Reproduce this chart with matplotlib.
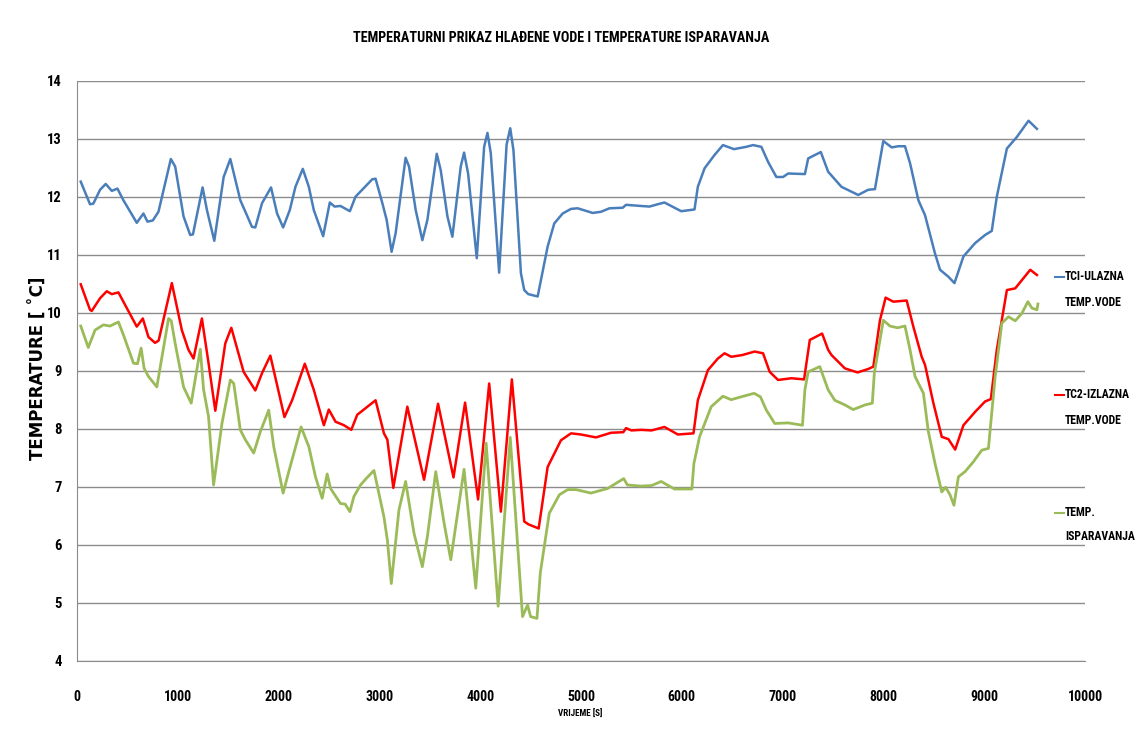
import matplotlib
matplotlib.use("Agg")
import matplotlib.pyplot as plt
from matplotlib import font_manager

names = {f.name for f in font_manager.fontManager.ttflist}
NARROW = None
for cand in ["Liberation Sans Narrow", "Roboto Condensed", "Open Sans Condensed", "DejaVu Sans Condensed"]:
    if cand in names:
        NARROW = cand
        break
if NARROW is None:
    NARROW = "DejaVu Sans"

# ---------------- data ----------------
tc1_x = [37, 129, 162, 229, 285, 345, 401, 460, 593, 659, 699, 752, 808, 931, 974, 1057, 1123, 1150,
         1246, 1289, 1362, 1455, 1521, 1620, 1736, 1769, 1836, 1925, 1985, 2045, 2111, 2167, 2240,
         2300, 2349, 2442, 2508, 2555, 2614, 2707, 2763, 2929, 2962, 3029, 3072, 3121, 3161, 3260,
         3294, 3360, 3426, 3476, 3569, 3608, 3675, 3724, 3807, 3840, 3880, 3966, 4039, 4072, 4105,
         4188, 4262, 4298, 4330, 4404, 4437, 4477, 4570, 4669, 4735, 4818, 4901, 4967, 5116, 5199,
         5282, 5414, 5447, 5596, 5679, 5762, 5828, 5994, 6126, 6159, 6226, 6325, 6408, 6517, 6640,
         6707, 6789, 6856, 6938, 7005, 7055, 7221, 7254, 7379, 7452, 7584, 7750, 7850, 7916, 7999,
         8082, 8148, 8214, 8264, 8347, 8413, 8512, 8562, 8645, 8705, 8794, 8910, 9009, 9075, 9125,
         9225, 9324, 9440, 9523]
tc1_y = [12.26, 11.87, 11.88, 12.12, 12.22, 12.10, 12.14, 11.94, 11.55, 11.71, 11.57, 11.59, 11.74,
         12.65, 12.52, 11.66, 11.34, 11.35, 12.16, 11.77, 11.24, 12.34, 12.65, 11.94, 11.48, 11.47,
         11.89, 12.16, 11.71, 11.47, 11.77, 12.17, 12.48, 12.17, 11.77, 11.32, 11.90, 11.83, 11.84,
         11.75, 12.00, 12.30, 12.31, 11.89, 11.60, 11.05, 11.37, 12.67, 12.52, 11.77, 11.25, 11.60,
         12.74, 12.46, 11.66, 11.31, 12.52, 12.76, 12.40, 10.94, 12.86, 13.10, 12.75, 10.69, 12.90,
         13.18, 12.80, 10.68, 10.39, 10.32, 10.28, 11.14, 11.54, 11.71, 11.79, 11.80, 11.72, 11.74,
         11.80, 11.81, 11.86, 11.84, 11.83, 11.87, 11.90, 11.75, 11.78, 12.17, 12.49, 12.72, 12.89,
         12.82, 12.86, 12.89, 12.86, 12.60, 12.34, 12.34, 12.40, 12.39, 12.66, 12.77, 12.43, 12.17,
         12.03, 12.12, 12.13, 12.96, 12.85, 12.87, 12.87, 12.58, 11.94, 11.68, 11.02, 10.74, 10.62,
         10.51, 10.97, 11.20, 11.34, 11.41, 12.00, 12.83, 13.03, 13.31, 13.17]

tc2_x = [37, 129, 146, 229, 295, 345, 411, 494, 593, 653, 709, 775, 810, 941, 1040, 1106, 1156, 1239,
         1305, 1372, 1471, 1531, 1653, 1769, 1836, 1918, 2058, 2134, 2260, 2349, 2449, 2498, 2565,
         2648, 2721, 2780, 2962, 3045, 3079, 3138, 3277, 3443, 3582, 3735, 3850, 3979, 4089, 4205,
         4314, 4437, 4480, 4580, 4669, 4801, 4901, 5000, 5149, 5298, 5420, 5447, 5500, 5596, 5700,
         5828, 5961, 6116, 6159, 6259, 6358, 6424, 6491, 6600, 6723, 6806, 6872, 6955, 7087, 7213,
         7270, 7392, 7452, 7485, 7618, 7744, 7850, 7900, 7966, 8022, 8098, 8231, 8297, 8380, 8413,
         8496, 8579, 8645, 8712, 8794, 8910, 9009, 9066, 9125, 9225, 9308, 9457, 9523]
tc2_y = [10.49, 10.05, 10.03, 10.25, 10.37, 10.32, 10.35, 10.08, 9.76, 9.90, 9.58, 9.48, 9.52, 10.51,
         9.70, 9.36, 9.21, 9.90, 9.13, 8.31, 9.47, 9.74, 8.98, 8.66, 8.96, 9.26, 8.20, 8.49, 9.12,
         8.67, 8.06, 8.33, 8.12, 8.06, 7.98, 8.24, 8.49, 7.92, 7.81, 6.98, 8.38, 7.12, 8.43, 7.16,
         8.45, 6.78, 8.78, 6.57, 8.85, 6.40, 6.35, 6.28, 7.34, 7.80, 7.92, 7.90, 7.85, 7.93, 7.94,
         8.01, 7.97, 7.98, 7.97, 8.03, 7.90, 7.92, 8.49, 9.01, 9.21, 9.30, 9.24, 9.27, 9.33, 9.30,
         8.98, 8.84, 8.87, 8.85, 9.53, 9.64, 9.36, 9.27, 9.04, 8.97, 9.03, 9.07, 9.87, 10.26, 10.19,
         10.21, 9.76, 9.24, 9.10, 8.44, 7.86, 7.82, 7.64, 8.06, 8.29, 8.47, 8.51, 9.36, 10.39, 10.42,
         10.74, 10.65]

isp_x = [37, 112, 179, 261, 328, 411, 460, 560, 600, 636, 666, 709, 792, 908, 935, 974, 1057, 1133,
         1223, 1256, 1305, 1355, 1438, 1521, 1555, 1620, 1670, 1753, 1819, 1902, 1952, 2045, 2101,
         2223, 2300, 2366, 2432, 2482, 2515, 2614, 2660, 2707, 2747, 2813, 2863, 2946, 3045, 3079,
         3118, 3194, 3260, 3343, 3426, 3476, 3559, 3642, 3708, 3840, 3956, 4059, 4178, 4298, 4420,
         4470, 4500, 4563, 4596, 4685, 4785, 4868, 4950, 5099, 5265, 5424, 5460, 5596, 5700, 5795,
         5928, 6100, 6120, 6176, 6292, 6408, 6490, 6590, 6717, 6780, 6839, 6922, 7055, 7197, 7221,
         7254, 7369, 7452, 7518, 7618, 7701, 7817, 7890, 7910, 7966, 7999, 8065, 8140, 8214, 8264,
         8314, 8397, 8446, 8512, 8579, 8618, 8661, 8700, 8744, 8810, 8893, 8976, 9042, 9059, 9109,
         9175, 9241, 9308, 9374, 9433, 9473, 9523, 9533]
isp_y = [9.77, 9.40, 9.70, 9.79, 9.77, 9.84, 9.62, 9.13, 9.12, 9.39, 9.04, 8.90, 8.72, 9.90, 9.86,
         9.47, 8.72, 8.44, 9.37, 8.67, 8.21, 7.03, 8.09, 8.84, 8.78, 7.98, 7.81, 7.58, 7.95, 8.32,
         7.69, 6.89, 7.26, 8.03, 7.69, 7.17, 6.80, 7.22, 6.97, 6.71, 6.70, 6.57, 6.83, 7.03, 7.13,
         7.28, 6.48, 6.08, 5.33, 6.60, 7.09, 6.20, 5.62, 6.14, 7.26, 6.37, 5.74, 7.30, 5.25, 7.75,
         4.94, 7.85, 4.76, 4.96, 4.76, 4.73, 5.51, 6.54, 6.86, 6.95, 6.95, 6.89, 6.97, 7.14, 7.03,
         7.01, 7.02, 7.09, 6.96, 6.96, 7.40, 7.86, 8.38, 8.56, 8.50, 8.55, 8.61, 8.55, 8.32, 8.09,
         8.10, 8.06, 8.67, 8.98, 9.07, 8.67, 8.49, 8.41, 8.33, 8.41, 8.44, 8.96, 9.53, 9.87, 9.77,
         9.74, 9.77, 9.36, 8.90, 8.61, 7.95, 7.40, 6.91, 6.99, 6.86, 6.68, 7.17, 7.26, 7.43, 7.63,
         7.66, 7.98, 8.90, 9.82, 9.93, 9.86, 9.99, 10.19, 10.08, 10.05, 10.15]

x_ticks = [0, 1000, 2000, 3000, 4000, 5000, 6000, 7000, 8000, 9000, 10000]
y_ticks = [4, 5, 6, 7, 8, 9, 10, 11, 12, 13, 14]
series_names = [("TCI-ULAZNA", "TEMP.VODE"), ("TC2-IZLAZNA", "TEMP.VODE"), ("TEMP.", "ISPARAVANJA")]
colors = ["#4A7EBB", "#FF0000", "#9BBB59"]
title = "TEMPERATURNI PRIKAZ HLAĐENE VODE I TEMPERATURE ISPARAVANJA"
ylabel = "TEMPERATURE [ ˚C]"
xlabel = "VRIJEME [S]"

# ---------------- figure ----------------
W, H = 1135, 741
fig = plt.figure(figsize=(W / 100, H / 100), dpi=100)
L, R, T, B = 77, 1085, 80.7, 660.7
ax = fig.add_axes([L / W, 1 - B / H, (R - L) / W, (B - T) / H])

ax.plot(tc1_x, tc1_y, color=colors[0], lw=1.8, solid_joinstyle="round")
ax.plot(tc2_x, tc2_y, color=colors[1], lw=1.8, solid_joinstyle="round")
ax.plot(isp_x, isp_y, color=colors[2], lw=2.0, solid_joinstyle="round")

ax.set_xlim(0, 10000)
ax.set_ylim(4, 14)
ax.set_xticks(x_ticks)
ax.set_yticks(y_ticks)
ax.set_xticklabels([str(v) for v in x_ticks], fontfamily=NARROW, fontweight="bold", fontsize=10)
ax.set_yticklabels([str(v) for v in y_ticks], fontfamily=NARROW, fontweight="bold", fontsize=10.5)
ax.tick_params(axis="both", length=0)
ax.tick_params(axis="x", pad=21)
ax.tick_params(axis="y", pad=11)
ax.grid(axis="y", color="#8C8C8C", lw=1.0)
ax.set_axisbelow(True)
for s in ["top", "right"]:
    ax.spines[s].set_visible(False)
ax.spines["left"].set_color("#8C8C8C")
ax.spines["bottom"].set_color("#8C8C8C")

def fx(px):
    return px / W

def fy(py):
    return 1 - py / H

fig.text(fx(561), fy(38), title, ha="center", va="center", fontfamily=NARROW,
         fontweight="bold", fontsize=10.2)
fig.text(fx(39), fy(368), ylabel, ha="center", va="center", rotation=90,
         fontfamily="DejaVu Sans", fontweight="bold", fontsize=12)
fig.text(fx(580), fy(714), xlabel, ha="center", va="center", fontfamily=NARROW,
         fontweight="bold", fontsize=6.5)

leg_y = [(277, 303), (395, 421), (513, 537)]
for (n1, n2), c, (y1, y2) in zip(series_names, colors, leg_y):
    fig.add_artist(plt.Line2D([fx(1055), fx(1064)], [fy(y1), fy(y1)], color=c, lw=1.5))
    fig.text(fx(1065), fy(y1), n1, ha="left", va="center", fontfamily=NARROW,
             fontweight="bold", fontsize=8.5)
    fig.text(fx(1065), fy(y2), n2, ha="left", va="center", fontfamily=NARROW,
             fontweight="bold", fontsize=8.5)

fig.savefig("out.png", dpi=100)
